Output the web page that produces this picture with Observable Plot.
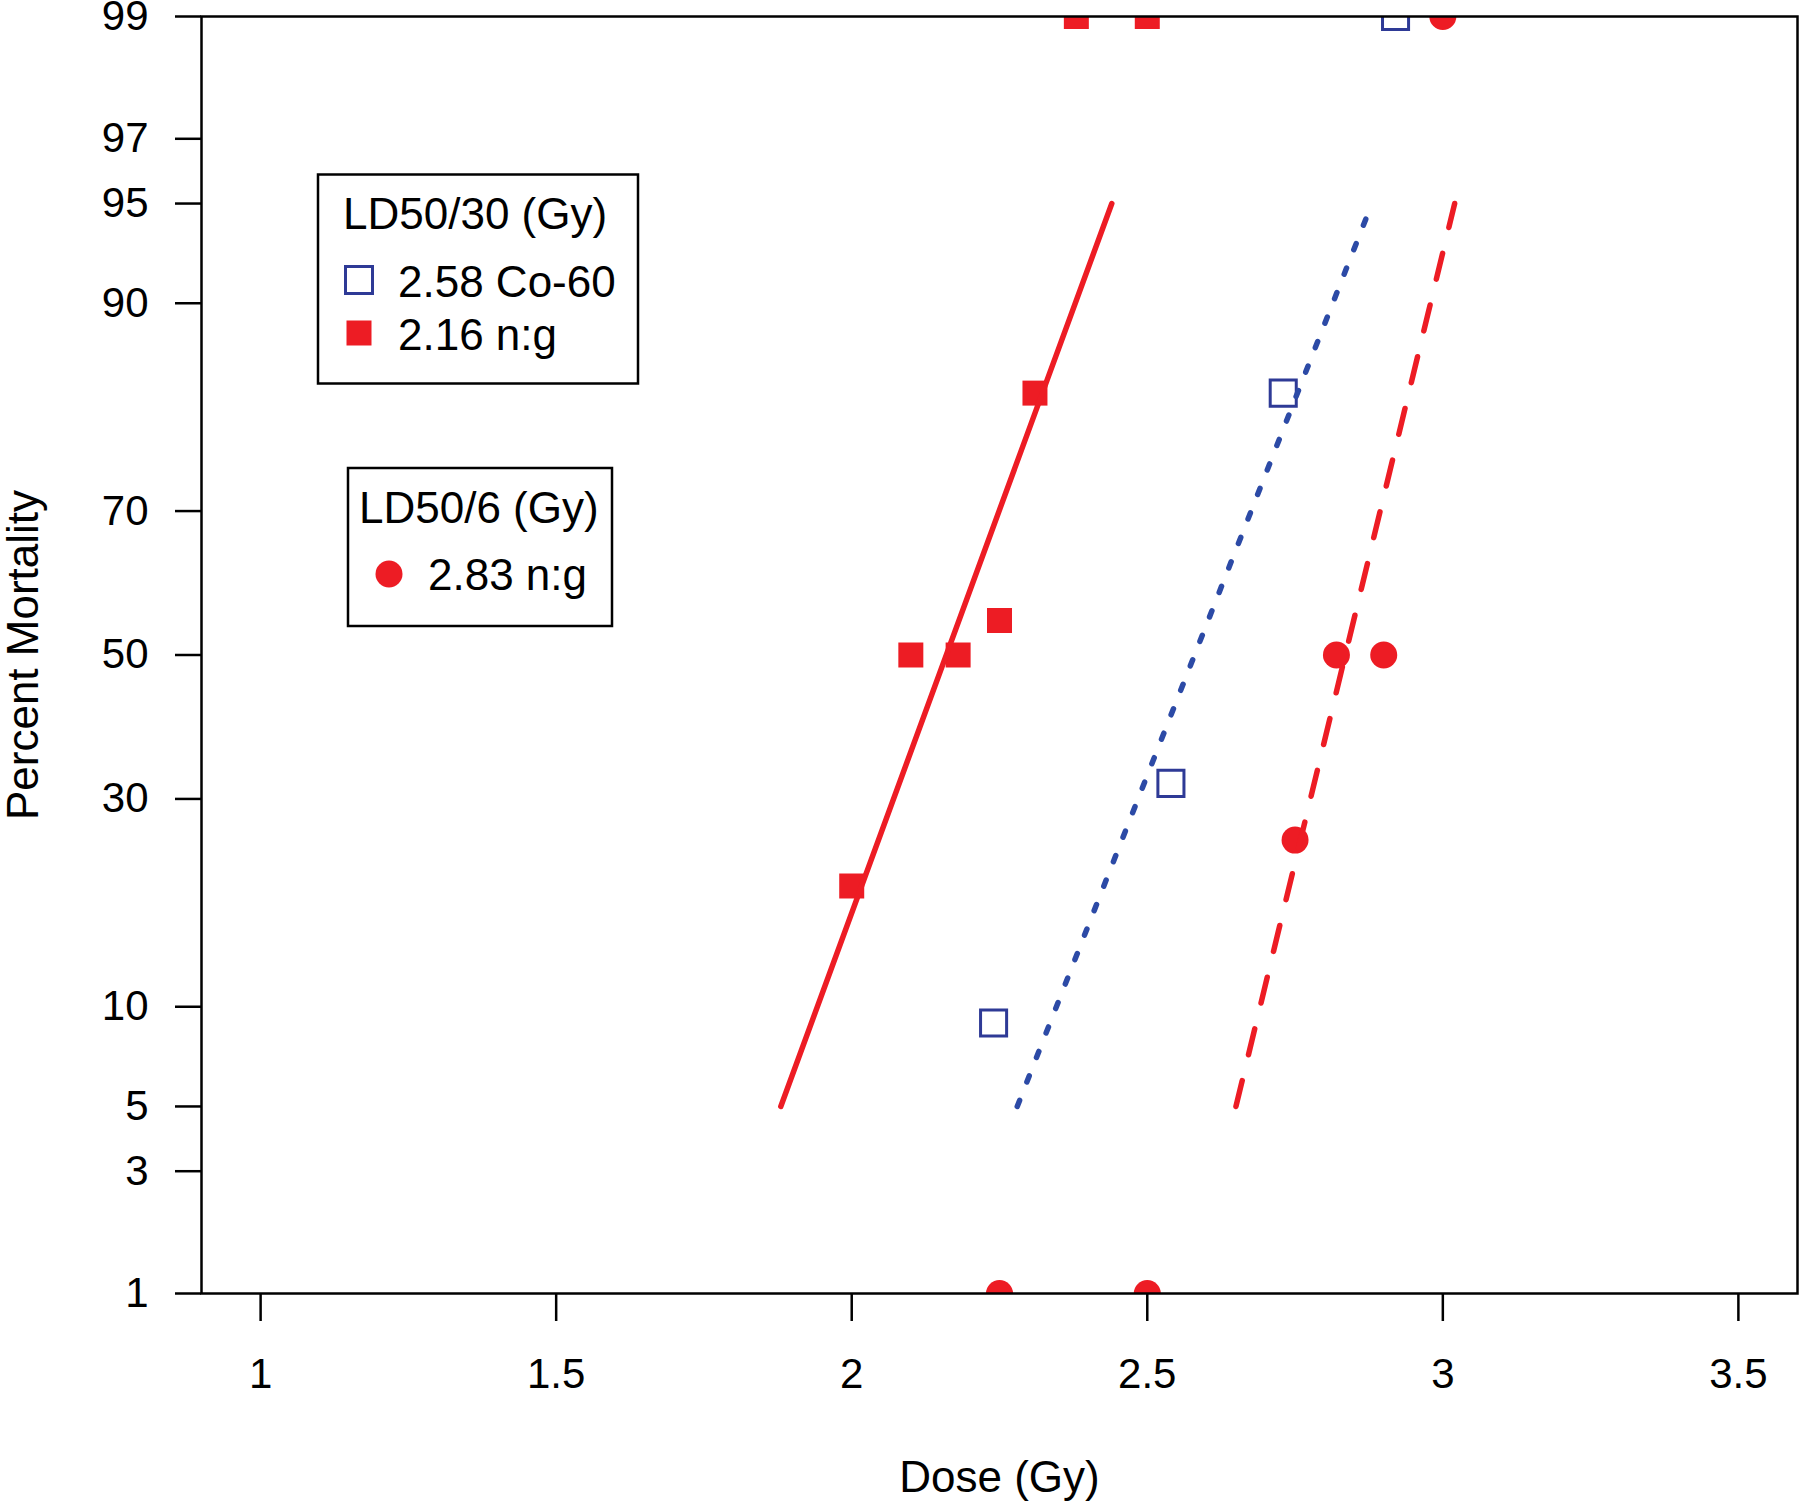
<!DOCTYPE html>
<html><head><meta charset="utf-8">
<script src="https://cdn.jsdelivr.net/npm/d3@7"></script>
<script src="https://cdn.jsdelivr.net/npm/@observablehq/plot@0.6"></script>
<style>
body{margin:0;background:#fff}
#chart{position:relative;width:1800px;height:1504px}
</style>
</head><body><div id="chart"></div>
<script>
// ---- data ----
const ngDose30 = [2.38, 2.50, 2.31, 2.10, 2.18, 2.25, 2.00];
const ngPct30  = [99, 99, 83, 50, 50, 55, 20];
const coDose30 = [2.92, 2.73, 2.54, 2.24];
const coPct30  = [99, 83, 32, 9];
const ngDose6  = [3.00, 2.82, 2.90, 2.75, 2.25, 2.50];
const ngPct6   = [99, 50, 50, 25, 1, 1];
const fitNames  = ["n:g 30-day", "Co-60 30-day", "n:g 6-day"];
const fitDose5  = [1.88, 2.28, 2.65];
const fitDose95 = [2.44, 2.88, 3.02];
const xTicks = [1, 1.5, 2, 2.5, 3, 3.5];
const yTicks = [1, 3, 5, 10, 30, 50, 70, 90, 95, 97, 99];
const xTitle = "Dose (Gy)";
const yTitle = "Percent Mortality";
const legend30Title = "LD50/30 (Gy)";
const legend30Labels = ["2.58 Co-60", "2.16 n:g"];
const legend6Title = "LD50/6 (Gy)";
const legend6Labels = ["2.83 n:g"];

const RED = "#ED1C24", BLUE = "#2E3A96", BLUE_LINE = "#2C4AA6";
const FONT = "'Liberation Sans', Arial, Helvetica, sans-serif";

// inverse normal CDF (probit axis)
function qnorm(p){
  const a=[-3.969683028665376e+01,2.209460984245205e+02,-2.759285104469687e+02,1.383577518672690e+02,-3.066479806614716e+01,2.506628277459239e+00];
  const b=[-5.447609879822406e+01,1.615858368580409e+02,-1.556989798598866e+02,6.680131188771972e+01,-1.328068155288572e+01];
  const c=[-7.784894002430293e-03,-3.223964580411365e-01,-2.400758277161838e+00,-2.549732539343734e+00,4.374664141464968e+00,2.938163982698783e+00];
  const d=[7.784695709041462e-03,3.224671290700398e-01,2.445134137142996e+00,3.754408661907416e+00];
  const pl=0.02425, ph=1-pl; let q,r;
  if(p<pl){q=Math.sqrt(-2*Math.log(p));return (((((c[0]*q+c[1])*q+c[2])*q+c[3])*q+c[4])*q+c[5])/((((d[0]*q+d[1])*q+d[2])*q+d[3])*q+1);}
  if(p<=ph){q=p-0.5;r=q*q;return (((((a[0]*r+a[1])*r+a[2])*r+a[3])*r+a[4])*r+a[5])*q/(((((b[0]*r+b[1])*r+b[2])*r+b[3])*r+b[4])*r+1);}
  q=Math.sqrt(-2*Math.log(1-p));return -(((((c[0]*q+c[1])*q+c[2])*q+c[3])*q+c[4])*q+c[5])/((((d[0]*q+d[1])*q+d[2])*q+d[3])*q+1);
}
const probit = p => qnorm(p/100);

const ng30 = ngDose30.map((d,i)=>({dose:d, pct:ngPct30[i]}));
const co30 = coDose30.map((d,i)=>({dose:d, pct:coPct30[i]}));
const ng6  = ngDose6.map((d,i)=>({dose:d, pct:ngPct6[i]}));
const fits = fitNames.map((n,i)=>[{name:n, dose:fitDose5[i], pct:5},{name:n, dose:fitDose95[i], pct:95}]);
const Y = d => probit(d.pct);

const plot = Plot.plot({
  width:1800, height:1504,
  marginLeft:201, marginRight:3, marginTop:16, marginBottom:211,
  style:{fontFamily:FONT, fontSize:"42px", background:"white", color:"black"},
  x:{domain:[0.9,3.6]},
  y:{domain:[probit(1), probit(99)]},
  marks:[
    Plot.dot(ng6,  {x:"dose", y:Y, symbol:"circle", r:13.5, fill:RED, stroke:"none", clip:true}),
    Plot.dot(ng30, {x:"dose", y:Y, symbol:"square", r:14.1, fill:RED, stroke:"none", clip:true}),
    Plot.dot(co30, {x:"dose", y:Y, symbol:"square", r:14.7, fill:"none", stroke:BLUE, strokeWidth:3, clip:true}),
    Plot.line(fits[0], {x:"dose", y:Y, stroke:RED, strokeWidth:5.5}),
    Plot.line(fits[1], {x:"dose", y:Y, stroke:BLUE_LINE, strokeWidth:5.5, strokeDasharray:"6.5,19.8", strokeLinecap:"round"}),
    Plot.line(fits[2], {x:"dose", y:Y, stroke:RED, strokeWidth:5.5, strokeDasharray:"26.6,26.6", strokeLinecap:"round"}),
    Plot.frame({stroke:"black", strokeWidth:2.5}),
    Plot.axisX({ticks:xTicks, tickSize:28, tickPadding:37, tickFormat:d=>String(d), fontSize:42, strokeWidth:2.5, label:null}),
    Plot.axisY({ticks:yTicks.map(probit), tickSize:26, tickPadding:27, fontSize:42, strokeWidth:2.5, label:null,
      tickFormat:z=>String(yTicks.find(p=>Math.abs(probit(p)-z)<1e-9))}),
    Plot.text([xTitle], {text:d=>d, frameAnchor:"bottom", dy:184, lineAnchor:"middle", textAnchor:"middle", fontSize:44, fill:"black"}),
    Plot.text([yTitle], {text:d=>d, frameAnchor:"left", rotate:-90, dx:-178, lineAnchor:"middle", textAnchor:"middle", fontSize:44, fill:"black"})
  ]
});
document.getElementById("chart").appendChild(plot);

// ---- legends ----
const svg = d3.select(plot);
const lg = svg.append("g").attr("font-family", FONT).attr("font-size", 44)
  .attr("fill","black").attr("text-anchor","start");
// legend 1
lg.append("rect").attr("x",318).attr("y",174.5).attr("width",320).attr("height",209)
  .attr("fill","white").attr("stroke","black").attr("stroke-width",2.5);
lg.append("text").attr("x",343).attr("y",213.5).attr("dy","0.36em").text(legend30Title);
lg.append("rect").attr("x",359-13.5).attr("y",280-13.5).attr("width",27).attr("height",27)
  .attr("fill","none").attr("stroke",BLUE).attr("stroke-width",3);
lg.append("text").attr("x",398).attr("y",281).attr("dy","0.36em").text(legend30Labels[0]);
lg.append("rect").attr("x",359-12.5).attr("y",333-12.5).attr("width",25).attr("height",25).attr("fill",RED);
lg.append("text").attr("x",398).attr("y",334).attr("dy","0.36em").text(legend30Labels[1]);
// legend 2
lg.append("rect").attr("x",348).attr("y",468).attr("width",264).attr("height",158)
  .attr("fill","white").attr("stroke","black").attr("stroke-width",2.5);
lg.append("text").attr("x",359).attr("y",507).attr("dy","0.36em").text(legend6Title);
lg.append("circle").attr("cx",389).attr("cy",574).attr("r",13.5).attr("fill",RED);
lg.append("text").attr("x",428).attr("y",574).attr("dy","0.36em").text(legend6Labels[0]);
</script>
</body></html>
